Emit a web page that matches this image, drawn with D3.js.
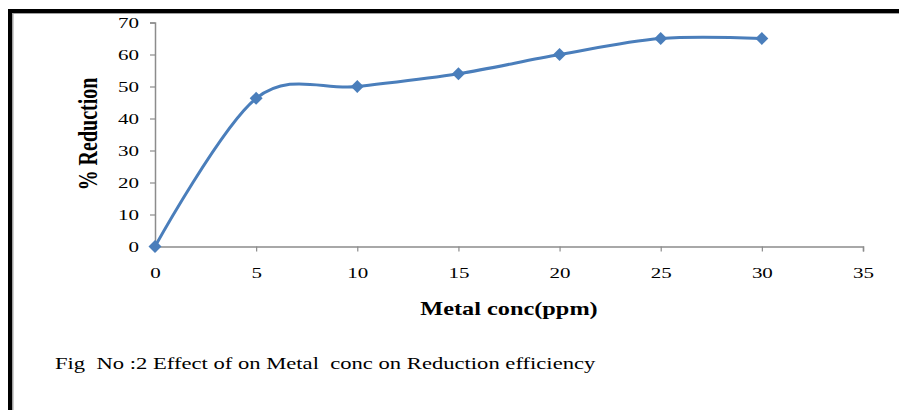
<!DOCTYPE html>
<html>
<head>
<meta charset="utf-8">
<script src="https://cdn.jsdelivr.net/npm/d3@7"></script>
<style>
  body { margin: 0; background: #fff; }
  svg { display: block; }
  text { font-family: "Liberation Serif", "Times New Roman", serif; fill: #000; white-space: pre; }
</style>
</head>
<body>
<div id="chart-area"></div>
<script>
// data
var concs = [0, 5, 10, 15, 20, 25, 30];
var reduction = [0, 46.3, 50, 54, 60, 65, 65];
var xTicks = [0, 5, 10, 15, 20, 25, 30, 35];
var yTicks = [0, 10, 20, 30, 40, 50, 60, 70];
var xTitle = "Metal conc(ppm)";
var yTitle = "% Reduction";
var caption = "Fig  No :2 Effect of on Metal  conc on Reduction efficiency";

var W = 899, H = 410;
// the picture's text is widened horizontally
var tickStretch = 1.5;
var titleStretch = 1.35;

var svg = d3.select("#chart-area").append("svg")
     .attr("width", W)
     .attr("height", H);

// frame: thick black top and left edges with a grey inner line
svg.append("rect").attr("x", 8).attr("y", 9).attr("width", W - 8).attr("height", 4).attr("fill", "#000");
svg.append("rect").attr("x", 8).attr("y", 9).attr("width", 4).attr("height", H - 9).attr("fill", "#000");
svg.append("rect").attr("x", 12).attr("y", 13).attr("width", W - 12).attr("height", 1).attr("fill", "#a0a0a0");
svg.append("rect").attr("x", 12).attr("y", 13).attr("width", 1.5).attr("height", H - 13).attr("fill", "#a0a0a0");

var x = d3.scaleLinear()
     .domain([0, 35])
     .range([155, 863]);

var y = d3.scaleLinear()
     .domain([0, 70])
     .range([246.5, 22.5]);

var axisColor = "#8c8c8c";

// y axis
var yAxis = svg.append("g")
     .attr("transform", "translate(" + x(0) + ",0)")
     .call(d3.axisLeft(y).tickValues(yTicks).tickSize(5).tickPadding(0).tickFormat(d3.format("d")));

yAxis.select(".domain").attr("stroke", axisColor).attr("stroke-width", 1.5);
yAxis.selectAll(".tick line").attr("stroke", axisColor).attr("stroke-width", 1.2);
yAxis.selectAll(".tick text")
     .attr("font-size", 14)
     .attr("x", -16 / tickStretch)
     .attr("dy", "0.35em")
     .attr("transform", "scale(" + tickStretch + ",1)");

// x axis
var xAxis = svg.append("g")
     .attr("transform", "translate(0," + y(0) + ")")
     .call(d3.axisBottom(x).tickValues(xTicks).tickSize(5).tickPadding(0).tickFormat(d3.format("d")));

xAxis.select(".domain").attr("stroke", axisColor).attr("stroke-width", 1.5);
xAxis.selectAll(".tick text")
     .attr("font-size", 14)
     .attr("y", 26.5)
     .attr("dy", "0.35em")
     .attr("transform", "scale(" + tickStretch + ",1)");
xAxis.selectAll(".tick line").attr("stroke", axisColor).attr("stroke-width", 1.2);

// smoothed line
var line = d3.line()
     .x((d) => { return x(d[0]); })
     .y((d) => { return y(d[1]); })
     .curve(d3.curveCardinal.tension(0));

var pts = concs.map((c, i) => { return [c, reduction[i]]; });

svg.append("path")
     .datum(pts)
     .attr("d", line)
     .attr("fill", "none")
     .attr("stroke", "#4a7ebb")
     .attr("stroke-width", 3);

// diamond markers
var diamond = d3.symbol().type(d3.symbolSquare).size(84);

svg.selectAll(".marker")
     .data(pts)
     .enter()
     .append("path")
     .attr("class", "marker")
     .attr("d", diamond)
     .attr("transform", (d) => { return "translate(" + x(d[0]) + "," + y(d[1]) + ") rotate(45)"; })
     .attr("fill", "#4a7ebb");

// titles
svg.append("text")
     .attr("transform", "translate(88,134) scale(" + titleStretch + ",1) rotate(-90)")
     .attr("text-anchor", "middle")
     .attr("dy", "0.35em")
     .attr("font-size", 20)
     .attr("font-weight", "bold")
     .text(yTitle);

svg.append("text")
     .attr("transform", "translate(509,309) scale(" + titleStretch + ",1)")
     .attr("text-anchor", "middle")
     .attr("dy", "0.35em")
     .attr("font-size", 18)
     .attr("font-weight", "bold")
     .text(xTitle);

svg.append("text")
     .attr("transform", "translate(55,363) scale(1.33,1)")
     .attr("dy", "0.35em")
     .attr("font-size", 17)
     .text(caption);
</script>
</body>
</html>
